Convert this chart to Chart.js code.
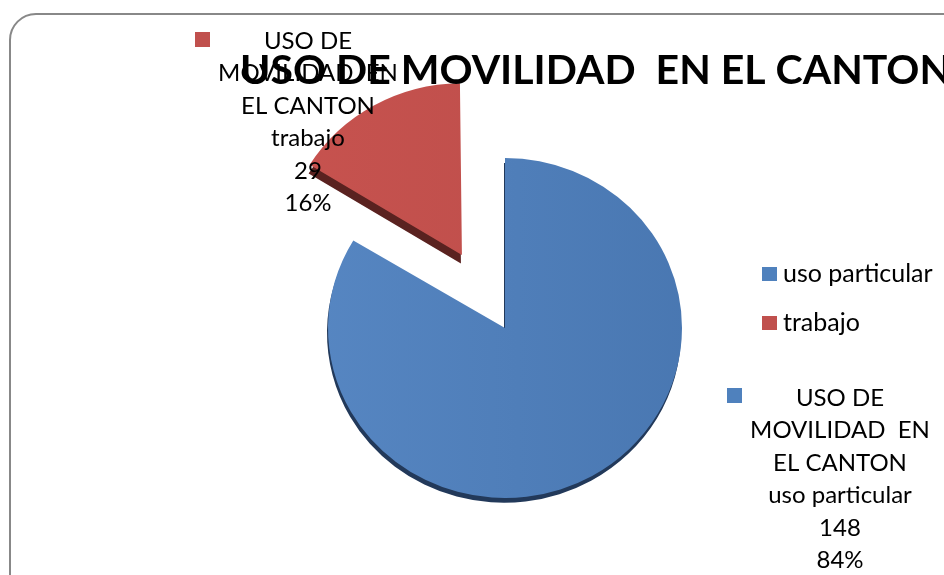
<!DOCTYPE html>
<html>
<head>
<meta charset="utf-8">
<script src="https://cdn.jsdelivr.net/npm/chart.js@4.4.0/dist/chart.umd.min.js"></script>
<style>
  html, body { margin: 0; padding: 0; background: #fff; }
</style>
</head>
<body>
<canvas id="container-chart" width="944" height="575"></canvas>
<script>
// datos
const titulo = 'USO DE MOVILIDAD  EN EL CANTON';
const categorias = ['uso particular', 'trabajo'];
const valores = [148, 29];

const total = valores.reduce((a, b) => a + b, 0);
const porcentajes = valores.map(v => Math.round(v / total * 100) + '%');

const fuente = 'Lato, "Open Sans", sans-serif';
const colores = ['#4F81BD', '#C0504D'];
const bordes = ['#22395a', '#5a2220'];
const grosor = [5, 9];

const ctx = document.querySelector('#container-chart').getContext('2d');

// marco redondeado gris
const marco = {
  id: 'marco',
  beforeDraw(chart) {
    const c = chart.ctx;
    c.save();
    c.strokeStyle = '#888888';
    c.lineWidth = 2;
    c.beginPath();
    c.roundRect(10, 14, 1000, 1000, 26);
    c.stroke();
    c.restore();
  }
};

// pastel un poco inclinado y con lado oscuro (efecto 3D)
const relieve = {
  id: 'relieve',
  afterDatasetUpdate(chart) {
    // la porcion separada se ve un poco mas lejos
    const arc = chart.getDatasetMeta(0).data[1];
    if (arc) arc.outerRadius = arc.outerRadius * 0.94;
  },
  beforeDatasetsDraw(chart) {
    const c = chart.ctx;
    const area = chart.chartArea;
    const cy = (area.top + area.bottom) / 2;
    c.save();
    c.translate(0, cy);
    c.scale(1, 0.96);
    c.translate(0, -cy);
    chart.getDatasetMeta(0).data.forEach((arc, i) => {
      const fondo = arc.options.backgroundColor;
      arc.options.backgroundColor = bordes[i];
      c.save();
      c.translate(-1, grosor[i]);
      arc.draw(c);
      c.restore();
      arc.options.backgroundColor = fondo;
    });
  },
  afterDatasetsDraw(chart) {
    chart.ctx.restore();
  }
};

function etiqueta(c, x, y, lineas, color, kx, ky) {
  c.fillStyle = color;
  c.fillRect(kx, ky, 15, 15);
  c.fillStyle = '#000';
  c.textAlign = 'center';
  c.textBaseline = 'middle';
  lineas.forEach((t, j) => c.fillText(t, x, y + j * 32.5));
}

// titulo, leyenda y etiquetas de datos
const textos = {
  id: 'textos',
  afterDraw(chart) {
    const c = chart.ctx;
    c.save();
    c.font = '24px ' + fuente;
    const partes = ['USO DE', 'MOVILIDAD  EN', 'EL CANTON'];
    etiqueta(c, 308, 41, [...partes, categorias[1], String(valores[1]), porcentajes[1]], colores[1], 195, 32);
    etiqueta(c, 840, 398, [...partes, categorias[0], String(valores[0]), porcentajes[0]], colores[0], 727, 388);

    // leyenda
    c.font = '25px ' + fuente;
    c.textAlign = 'left';
    categorias.forEach((cat, i) => {
      const y = 274 + i * 49;
      c.fillStyle = colores[i];
      c.fillRect(762, y - 7, 15, 14);
      c.fillStyle = '#000';
      c.fillText(cat, 783, y);
    });

    c.font = 'bold 41px ' + fuente;
    c.textAlign = 'left';
    c.textBaseline = 'alphabetic';
    c.fillText(titulo, 240, 84);
    c.restore();
  }
};

function degradado(context, claro, oscuro) {
  const area = context.chart.chartArea;
  if (!area) return claro;
  const g = context.chart.ctx.createLinearGradient(area.left, 0, area.right, 0);
  g.addColorStop(0, claro);
  g.addColorStop(1, oscuro);
  return g;
}

const configChart = {
  type: 'pie',
  data: {
    labels: categorias,
    datasets: [{
      label: titulo,
      data: valores,
      backgroundColor: (context) => context.dataIndex === 0
        ? degradado(context, '#5787c3', '#4876b0')
        : degradado(context, '#c8534f', '#bb4d4a'),
      borderWidth: 0,
      offset: [0, 350],
      radius: 177
    }]
  },
  options: {
    responsive: false,
    animation: false,
    layout: { padding: { left: 288, right: 222, top: 111, bottom: 30 } },
    plugins: {
      legend: { display: false },
      title: { display: false },
      tooltip: { enabled: false }
    }
  },
  plugins: [marco, relieve, textos]
};

const myChart = new Chart(ctx, configChart);
</script>
</body>
</html>
